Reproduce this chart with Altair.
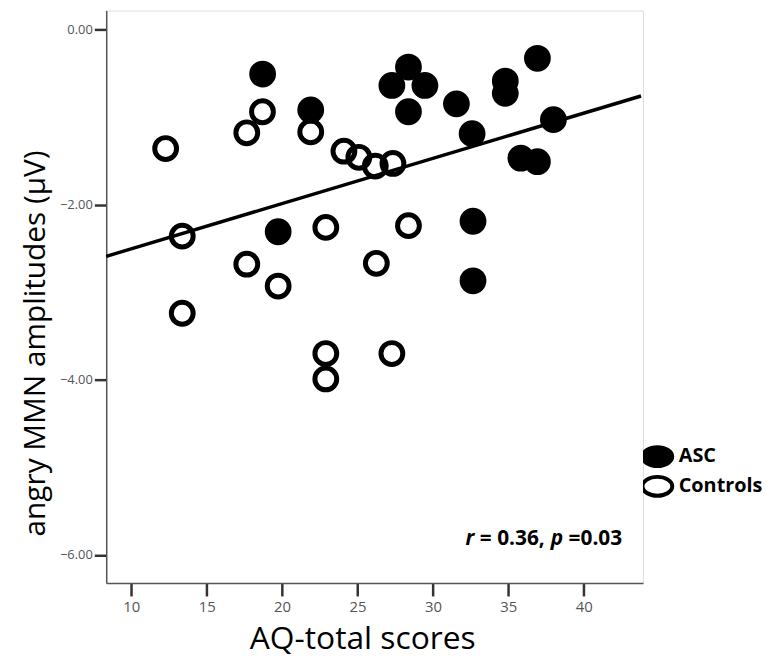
import altair as alt
import pandas as pd

# ASC (filled) points
asc_x = [18.71, 21.9, 27.28, 28.38, 29.47, 28.38, 31.56, 32.6, 34.8, 34.8,
         36.93, 37.99, 35.83, 36.93, 32.66, 19.74, 32.66]
asc_y = [-0.51, -0.92, -0.64, -0.43, -0.64, -0.94, -0.85, -1.19, -0.59, -0.73,
         -0.33, -1.03, -1.47, -1.51, -2.19, -2.31, -2.87]
# Controls (open) points
ctl_x = [12.28, 17.66, 18.7, 21.9, 24.1, 25.09, 26.18, 27.35, 13.38, 22.9,
         28.38, 17.66, 19.74, 26.25, 13.38, 22.9, 27.28, 22.9]
ctl_y = [-1.36, -1.18, -0.94, -1.17, -1.39, -1.46, -1.56, -1.53, -2.36, -2.26,
         -2.24, -2.68, -2.93, -2.67, -3.24, -3.70, -3.70, -3.99]
groups = ["ASC", "Controls"]

# fit line end points
fit_x = [8.34, 43.8]
fit_y = [-2.59, -0.76]

x_ticks = [10, 15, 20, 25, 30, 35, 40]
y_ticks = [0, -2, -4, -6]

# annotation pieces (right edges in data units)
anno_text = ["r", "= 0.36,", "p", "=0.03"]
anno_italic = [True, False, True, False]
anno_x = [32.75, 37.42, 38.64, 42.55]
anno_y = [-5.89, -5.89, -5.89, -5.89]

pts = pd.DataFrame({
    "aq": ctl_x + asc_x,
    "mmn": ctl_y + asc_y,
    "group": ["Controls"] * len(ctl_x) + ["ASC"] * len(asc_x),
})
fit = pd.DataFrame({"aq": fit_x, "mmn": fit_y})
anno = pd.DataFrame({"aq": anno_x, "mmn": anno_y, "t": anno_text, "it": anno_italic})

FONT = "Open Sans"
xs = alt.Scale(domain=[8.34, 43.93], nice=False, zero=False)
ys = alt.Scale(domain=[-6.32, 0.215], nice=False, zero=False)

x_axis = alt.Axis(values=x_ticks, title="AQ-total scores", grid=False,
                  labelFont=FONT, labelFontSize=15, labelColor="#555555",
                  tickSize=13, tickWidth=2.5, tickColor="#333333",
                  domainColor="#555555", domainWidth=1.5, labelPadding=4,
                  titleFont=FONT, titleFontSize=32, titleFontWeight="normal",
                  titleColor="black", titleX=258, titleY=66,
                  titleBaseline="alphabetic", titleAlign="center")
y_axis = alt.Axis(values=y_ticks, format=".2f", title="angry MMN amplitudes (µV)",
                  grid=False, labelFont=FONT, labelFontSize=13,
                  labelColor="#555555", tickSize=12, tickWidth=2.5,
                  tickColor="#333333", domainColor="#555555", domainWidth=1.5,
                  labelPadding=2, titleFont=FONT, titleFontSize=30,
                  titleFontWeight="normal", titleColor="black", titleX=-62,
                  titleY=335, titleAngle=270, titleAlign="center",
                  titleBaseline="alphabetic")

ellipse = "M -1.2 0 A 1.2 0.76 0 1 0 1.2 0 A 1.2 0.76 0 1 0 -1.2 0 Z"

points = alt.Chart(pts).mark_point(
    shape="circle", size=484, strokeWidth=5, stroke="black", filled=True,
    opacity=1
).encode(
    x=alt.X("aq:Q", scale=xs, axis=x_axis),
    y=alt.Y("mmn:Q", scale=ys, axis=y_axis),
    fill=alt.Fill("group:N",
                  scale=alt.Scale(domain=groups, range=["black", "transparent"]),
                  legend=alt.Legend(title=None, orient="none", legendX=541,
                                    legendY=435, symbolType=ellipse,
                                    symbolSize=625, symbolStrokeWidth=4,
                                    symbolStrokeColor="black", symbolOpacity=1,
                                    labelFont=FONT, labelFontWeight="bold",
                                    labelFontSize=20, labelColor="black",
                                    labelOffset=7, rowPadding=1, padding=0,
                                    clipHeight=29)),
)

line = alt.Chart(fit).mark_line(color="black", strokeWidth=3.5).encode(
    x=alt.X("aq:Q", scale=xs), y=alt.Y("mmn:Q", scale=ys)
)

txt_it = alt.Chart(anno).transform_filter("datum.it").mark_text(
    font=FONT, fontSize=21, fontWeight="bold", fontStyle="italic",
    align="right", baseline="alphabetic", color="black"
).encode(x=alt.X("aq:Q", scale=xs), y=alt.Y("mmn:Q", scale=ys), text="t:N")

txt_up = alt.Chart(anno).transform_filter("!datum.it").mark_text(
    font=FONT, fontSize=21, fontWeight="bold",
    align="right", baseline="alphabetic", color="black"
).encode(x=alt.X("aq:Q", scale=xs), y=alt.Y("mmn:Q", scale=ys), text="t:N")

chart = alt.layer(points, line, txt_it, txt_up).properties(
    width=541, height=577,
    autosize=alt.AutoSizeParams(type="none"),
    padding={"left": 99, "top": 0, "right": 126, "bottom": 78},
).configure_view(stroke=None).configure(background="white")

chart.save("out.html", embed_options={"renderer": "svg", "actions": False})
